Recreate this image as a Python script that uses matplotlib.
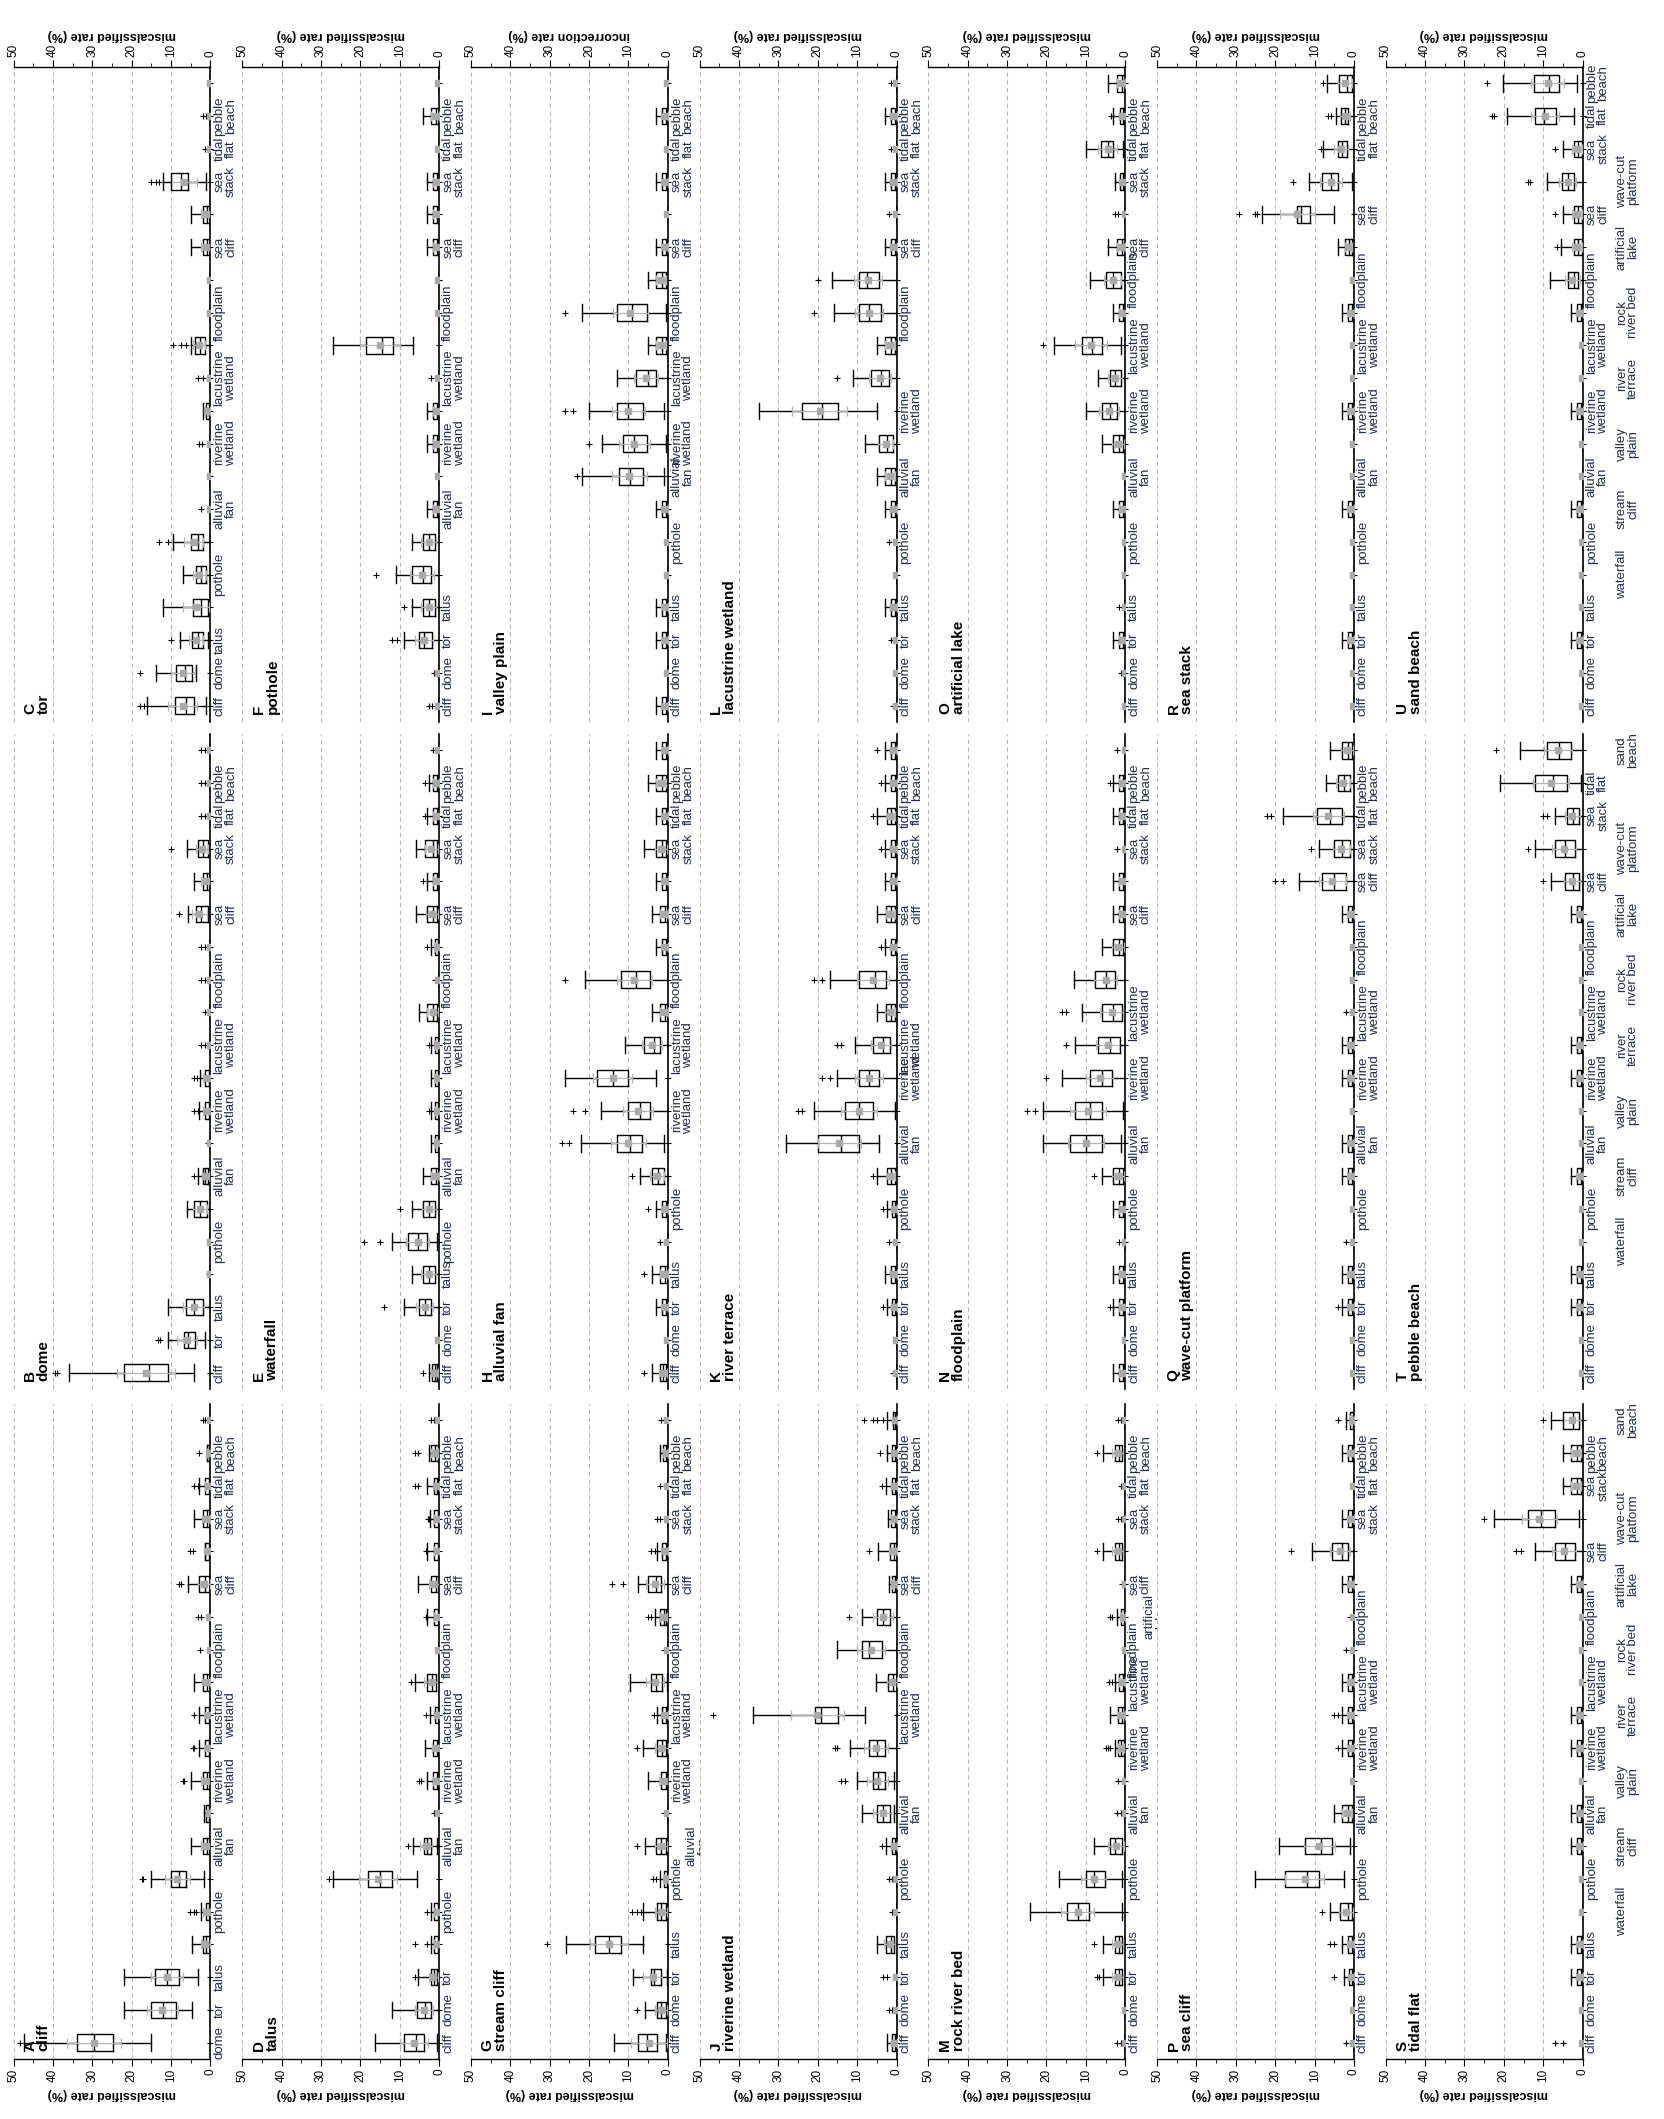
import matplotlib
matplotlib.use("Agg")
import matplotlib.pyplot as plt
from matplotlib.ticker import MultipleLocator
from matplotlib.transforms import blended_transform_factory, ScaledTranslation

plt.rcParams['font.family'] = ['Liberation Sans', 'DejaVu Sans']

CATS = ["cliff", "dome", "tor", "talus", "waterfall", "pothole", "stream cliff",
        "alluvial fan", "valley plain", "riverine wetland", "river terrace",
        "lacustrine wetland", "rock river bed", "floodplain", "artificial lake",
        "sea cliff", "wave-cut platform", "sea stack", "tidal flat",
        "pebble beach", "sand beach"]
LABEL_TEXT = {"cliff": "cliff", "dome": "dome", "tor": "tor", "talus": "talus",
              "waterfall": "waterfall", "pothole": "pothole",
              "stream cliff": "stream\ncliff", "alluvial fan": "alluvial\nfan",
              "valley plain": "valley\nplain", "riverine wetland": "riverine\nwetland",
              "river terrace": "river\nterrace", "lacustrine wetland": "lacustrine\nwetland",
              "rock river bed": "rock\nriver bed", "floodplain": "floodplain",
              "artificial lake": "artificial\nlake", "sea cliff": "sea\ncliff",
              "wave-cut platform": "wave-cut\nplatform", "sea stack": "sea\nstack",
              "tidal flat": "tidal\nflat", "pebble beach": "pebble\nbeach",
              "sand beach": "sand\nbeach"}
# 0 = next to the axis, 1 = middle row, 2 = far row
LABEL_ROW = {"cliff": 0, "dome": 0, "tor": 0, "talus": 0, "waterfall": 2, "pothole": 0,
             "stream cliff": 2, "alluvial fan": 0, "valley plain": 2,
             "riverine wetland": 0, "river terrace": 2, "lacustrine wetland": 0,
             "rock river bed": 2, "floodplain": 0, "artificial lake": 2, "sea cliff": 0,
             "wave-cut platform": 2, "sea stack": 0, "tidal flat": 0,
             "pebble beach": 0, "sand beach": 2}
ROW_OVERRIDE = {("G", "alluvial fan"): 1, ("M", "artificial lake"): 1}
LETTERS = "ABCDEFGHIJKLMNOPQRSTU"
AXIS_LABEL = {"I": "incorrection rate (%)"}
DEFAULT_AXIS_LABEL = "miscalssified rate (%)"

# rows: (q1, median, q3, whisker low, whisker high, mean, sd); one row per category
Z = (0, 0, 0, 0, 0, 0.2, 0)

A_stats = [(24.7, 29.5, 33.8, 15.2, 47.4, 29.5, 6.8), (8.8, 12, 15.2, 4.7, 22, 12.2, 4.0),
           (7.9, 11, 14.1, 3.1, 22, 11.0, 4.1), (0, 1.1, 2, 0, 4.7, 1.3, 1.2),
           (0, 0.4, 1.1, 0, 2.5, 0.9, 1.0), (6.1, 7.9, 9.9, 1.7, 15, 8.4, 3.1),
           (0, 0.8, 2, 0, 4.9, 1.1, 1.2), (0, 0.3, 1.1, 0, 1.7, 0.5, 0.5),
           (0, 0.8, 2, 0, 4.9, 1.1, 1.4), (0, 0.3, 1.4, 0, 2.8, 0.7, 1.0),
           (0, 0.3, 1.4, 0, 2.8, 0.7, 0.9), (0, 0.8, 2, 0, 4.1, 1.1, 1.1),
           Z, (0, 0, 0, 0, 0, 0.3, 0), (0, 1.4, 2.8, 0, 5.6, 1.6, 1.6),
           (0, 0.3, 1.4, 0, 1.4, 0.6, 1.0), (0, 0.8, 2, 0, 4.1, 1.1, 1.1),
           (0, 0.3, 1.4, 0, 2.8, 0.6, 0.9), (0, 0, 0.9, 0, 0.9, 0.4, 0.6), Z]
A_out = [[48.3], [], [], [], [3.8, 4.3, 5.2], [17.1, 17.5], [], [], [6.6, 7.0], [4.1, 4.5],
         [4.1], [], [2.6], [2.4, 3.2], [7.5, 7.9], [4.5, 5.1], [], [3.2, 4.3], [2.8], [1.4, 2.0]]

B_stats = [(10.9, 15.7, 21.9, 4.1, 36, 16.4, 7.4), (3.9, 5.8, 6.8, 1.5, 10.9, 6.0, 2.5),
           (2.0, 4.1, 6.2, 0, 10.9, 4.3, 2.6), Z, Z, (0.9, 2.6, 4.1, 0, 6.0, 2.6, 1.8),
           (0.7, 1.3, 2.0, 0, 3.2, 1.3, 0.9), Z, (0, 0.5, 1.4, 0, 2.8, 0.8, 1.0),
           (0, 0.5, 1.4, 0, 2.6, 0.8, 1.0), Z, Z, Z, Z, (0.7, 2.4, 3.7, 0, 5.8, 2.8, 1.8),
           (0, 0.8, 2.0, 0, 4.1, 1.1, 1.2), (0.7, 1.9, 3.2, 0, 6.0, 2.2, 1.6), Z, Z, Z]
B_out = [[39, 39.4], [12.8, 13.4], [], [0.5], [], [], [4.3], [0.7], [3.2, 4.1], [3.4, 4.3],
         [1.4, 2.4], [1.5], [1.4, 2.4], [1.5, 2.5], [7.9], [], [10], [1.5, 2.4], [1.4, 2.4],
         [1.4, 2.4]]

C_stats = [(4.1, 6.2, 9.0, 1.1, 16, 7.1, 3.8), (4.8, 6.5, 8.8, 3.7, 13.9, 7.0, 3.0),
           (1.8, 3.2, 4.8, 0.7, 7.7, 3.7, 1.8), (0.7, 2.4, 4.5, 0, 12, 3.7, 3.2),
           (1.1, 2.4, 3.7, 0, 6.9, 2.8, 1.7), (2.0, 3.2, 4.9, 0, 9.6, 4.3, 2.4),
           Z, Z, Z, (0, 0.4, 1.1, 0, 2.0, 0.8, 0.7), Z, (1.4, 2.7, 3.9, 0, 4.9, 2.9, 1.5),
           Z, Z, (0, 0.9, 2.0, 0, 4.9, 1.1, 1.3), (0, 0.9, 2.0, 0, 4.9, 1.1, 1.3),
           (5.6, 7.5, 10, 1.1, 12, 6.6, 3.2), Z, Z, Z]
C_out = [[17, 17.9], [17.9], [9.9], [], [], [10.9, 13], [2.4], [], [2.1, 3.0], [], [2.0, 3.2],
         [6.2, 7.5, 9.6], [], [], [], [], [13, 13.9, 15], [1.4], [1.1, 2.0], []]

D_stats = [(3.9, 6.0, 8.9, 0.5, 16.2, 6.4, 3.6), (2.1, 3.5, 5.7, 0, 11.9, 3.9, 2.3),
           (0.5, 1.2, 2.1, 0, 5.3, 1.5, 1.2), (0, 0.4, 1.2, 0, 2.1, 0.6, 0.8),
           (0, 0.4, 1.2, 0, 2.1, 0.6, 0.8), (11.9, 15, 18, 5.7, 27, 15.5, 4.8),
           (2.1, 3.0, 3.9, 0.5, 6.6, 3.3, 1.5), Z, (0, 0.5, 1.5, 0, 3.0, 0.8, 0.9),
           (0, 0.5, 1.5, 0, 3.5, 0.9, 1.0), (0, 0.4, 1.0, 0, 2.3, 0.6, 0.7),
           (0.8, 1.8, 3.0, 0, 6.1, 2.2, 1.7), Z, (0, 0.4, 1.3, 0, 3.1, 0.6, 0.8),
           (0, 0.8, 2.1, 0, 5.3, 1.2, 1.4), (0, 0.4, 1.3, 0, 3.1, 0.6, 0.8),
           (0, 0.4, 1.3, 0, 2.3, 0.6, 0.7), (0.2, 0.6, 1.3, 0, 3.1, 0.8, 0.8),
           (0.4, 1.0, 2.1, 0, 2.7, 1.1, 0.9), Z]
D_out = [[], [], [6.2], [3.0, 6.2], [3.0], [28], [8.0], [1.2], [4.5, 5.0], [], [3.3], [7.2],
         [], [3.3], [], [3.3], [2.5, 2.9], [5.5, 6.1], [5.5, 6.1], [1.3, 2.1]]

E_stats = [(0.5, 1.0, 1.8, 0, 2.5, 1.2, 0.8), Z, (2.2, 3.5, 5.2, 0, 9.0, 3.7, 2.2),
           (1.0, 2.5, 4.0, 0, 7.0, 2.7, 1.8), (3.0, 5.5, 8.0, 0.5, 12, 5.5, 3.0),
           (1.0, 2.5, 4.0, 0, 7.0, 2.6, 1.8), (0, 0.8, 2.0, 0, 4.0, 1.0, 1.0),
           (0, 0.3, 1.0, 0, 2.0, 0.5, 0.6), (0, 0.3, 1.0, 0, 2.0, 0.5, 0.6),
           (0, 0.3, 1.0, 0, 2.0, 0.5, 0.6), (0, 0.3, 1.0, 0, 2.0, 0.5, 0.6),
           (0.5, 1.5, 3.0, 0, 5.0, 1.7, 1.3), Z, (0, 0.3, 1.0, 0, 2.0, 0.5, 0.6),
           (0.5, 1.5, 3.0, 0, 6.0, 1.8, 1.5), (0, 0.5, 1.5, 0, 3.0, 0.8, 0.9),
           (0.5, 1.5, 3.5, 0, 6.0, 2.0, 1.6), (0, 0.5, 1.5, 0, 3.0, 0.8, 0.9),
           (0, 0.5, 1.5, 0, 2.5, 0.8, 0.8), Z]
E_out = [[4.0], [], [14], [], [15, 19], [10], [], [], [2.5], [], [2.5], [], [1.0], [3],
         [], [4], [], [3.5], [3.5], [1.5]]

F_stats = [Z, Z, (1.8, 3.9, 5.2, 0, 9, 3.9, 2.3), (1, 2.5, 4, 0, 7, 2.7, 1.8),
           (2, 4, 7, 0, 11, 4.3, 3), (1, 2.5, 4, 0, 7, 2.7, 1.8),
           (0, 0.5, 1.5, 0, 3, 0.8, 0.9), Z, (0, 0.5, 1.5, 0, 3, 0.8, 0.9),
           (0, 0.5, 1.5, 0, 3, 0.8, 0.9), Z, (11.8, 14.5, 18.7, 6.7, 26.9, 15, 5), Z, Z,
           (0, 0.5, 1.5, 0, 3, 0.8, 0.9), (0, 0.5, 1.5, 0, 3, 0.8, 0.9),
           (0, 0.5, 1.5, 0, 3, 0.8, 0.9), Z, (0, 0.8, 2.0, 0, 4, 1.1, 1.1), Z]
F_out = [[1.8, 2.6], [1.4], [10.7, 12], [9], [16], [], [], [], [], [], [2], [], [], [], [],
         [], [], [], [], []]

G_stats = [(2.7, 5.4, 7.6, 0.6, 13.8, 4.8, 4.5), (0.6, 1.8, 2.7, 0, 5.8, 1.8, 1.5),
           (1.8, 3.5, 4.4, 0.2, 8.8, 3.9, 2.3), (11.8, 15, 18.5, 6.2, 25.8, 15, 4.8),
           (0.6, 1.8, 2.7, 0, 6.2, 1.8, 1.6), (0, 0.3, 0.9, 0, 2.1, 0.5, 0.6),
           (0.4, 1.8, 2.9, 0, 5.8, 1.8, 1.6), Z, (0, 0.6, 1.8, 0, 5.0, 1.0, 1.3),
           (0.4, 1.5, 2.7, 0, 6.2, 1.7, 1.6), (0, 0.5, 1.5, 0, 2.7, 0.8, 0.9),
           (1.5, 2.9, 4.4, 0.2, 9.7, 3.3, 2.2), Z, (0.4, 1.0, 2.1, 0, 3.3, 1.2, 0.9),
           (1.8, 2.9, 5.0, 0, 7.6, 3.3, 2.3), (0, 0.5, 1.5, 0, 2.7, 0.8, 0.9), Z, Z,
           (0, 0.4, 1.2, 0, 2.1, 0.6, 0.7), Z]
G_out = [[], [7.9], [], [30.7], [6.8, 7.9, 9.1], [2.9, 3.9], [7.9], [0.9], [], [7.9], [3.6],
         [], [0.9], [4.4, 5.0], [11.4, 14.1], [3.3, 4.4], [2.0, 2.7], [2.1], [], [0.9, 1.8]]

H_stats = [(0.5, 1.2, 2.0, 0, 4.0, 1.3, 1.0), Z, (0, 0.5, 1.5, 0, 3, 0.8, 0.9),
           (0, 0.8, 2, 0, 4, 1.0, 1.1), Z, (0, 0.5, 1.5, 0, 3, 0.8, 0.9),
           (1.0, 2.5, 4.0, 0, 7, 2.7, 1.8), (6.5, 9.5, 13, 1, 22, 10, 4.5),
           (4.5, 7, 10, 0, 17, 7.5, 3.8), (10, 14, 18, 3, 26, 14, 5),
           (2, 3.5, 6, 0, 11, 4, 2.5), (0, 0.8, 2, 0, 4, 1, 1), (4.5, 8, 12, 0, 21, 8.5, 4.5),
           (0, 0.5, 1.5, 0, 3, 0.8, 0.9), (0, 0.8, 2, 0, 4, 1, 1),
           (0, 0.5, 1.5, 0, 3, 0.8, 0.9), (0.5, 1.5, 3, 0, 6, 1.8, 1.5),
           (0, 0.5, 1.5, 0, 3, 0.8, 0.9), (0.5, 1.5, 3, 0, 5, 1.7, 1.3),
           (0, 0.5, 1.5, 0, 3, 0.8, 0.9)]
H_out = [[6], [], [], [6], [2], [5], [9], [25, 27], [21, 24], [], [], [], [26], [], [], [],
         [], [], [], []]

I_stats = [(0, 0.5, 1.5, 0, 3, 0.8, 0.9), Z, (0, 0.5, 1.5, 0, 3, 0.8, 0.9),
           (0, 0.5, 1.5, 0, 3, 0.8, 0.9), Z, Z, (0, 0.5, 1.5, 0, 3, 0.8, 0.9),
           (6.4, 9.5, 12.5, 1, 21.8, 9.8, 4.5), (5.4, 8.5, 11.5, 0.5, 16.7, 8.5, 4),
           (6.4, 10, 13, 1, 20, 10, 4.3), (3, 5, 8.2, 0, 13, 5.5, 3),
           (0.5, 1.5, 3, 0, 5, 1.8, 1.3), (5.4, 9, 13, 0.5, 21.8, 9.5, 4.5),
           (0.5, 1.5, 3, 0, 5, 1.8, 1.3), (0, 0.5, 1.5, 0, 3, 0.8, 0.9), Z,
           (0, 0.5, 1.5, 0, 3, 0.8, 0.9), Z, (0, 0.5, 1.5, 0, 3, 0.8, 0.9), Z]
I_out = [[], [], [], [], [], [], [], [23], [20], [24, 26], [], [], [26], [], [], [], [], [],
         [], []]

J_stats = [(0, 0.4, 1.2, 0, 2.4, 0.6, 0.7), Z, Z, (0.6, 1.5, 2.6, 0, 5.0, 1.8, 1.4), Z, Z,
           (0, 0.4, 1.2, 0, 2.6, 0.6, 0.8), (1.8, 3.5, 5.0, 0.6, 8.9, 3.5, 2.5),
           (3.0, 4.7, 5.9, 0.6, 10, 4.9, 2.6), (3.0, 5.0, 7.1, 0, 11.8, 5.3, 3.0),
           (14.8, 19.1, 20.7, 8.0, 36.4, 20.1, 6.7), (0, 0.8, 2.1, 0, 5.3, 1.2, 1.2),
           (3.8, 7.1, 8.9, 0, 15.1, 6.5, 3.6), (1.8, 3.5, 5.0, 0, 8.9, 3.5, 2.5),
           (0, 0.4, 1.2, 0, 2.0, 0.6, 0.6), (0, 0.6, 1.8, 0, 4.7, 0.9, 1.1),
           (0, 0.5, 1.4, 0, 2.1, 0.7, 0.7), (0, 0.4, 1.2, 0, 2.6, 0.7, 0.8),
           (0, 0.4, 1.2, 0, 2.4, 0.6, 0.7), (0, 0.3, 0.9, 0, 2.4, 0.5, 0.7)]
J_out = [[], [1.2, 2.0], [2.4, 3.5], [], [1.2], [1.2, 2.0], [3.8], [], [13, 14.2],
         [15.1, 15.6], [46.5], [], [], [12.1], [], [7.1], [], [3.8], [4.1],
         [3.5, 5.0, 5.9, 8.3]]

K_stats = [Z, Z, (0, 0.4, 1.2, 0, 2.4, 0.6, 0.7), (0, 0.5, 1.5, 0, 3.0, 0.8, 0.9), Z,
           (0, 0.4, 1.2, 0, 2.5, 0.6, 0.7), (0.5, 1.5, 2.5, 0, 5, 1.6, 1.2),
           (9.6, 14, 20, 4.5, 28, 14.5, 5.5), (6, 9.5, 13, 0.5, 21, 9.5, 4.5),
           (4.5, 7, 9.6, 0, 15, 7, 3.5), (1.7, 3.5, 6, 0, 10.6, 4, 2.5),
           (0.5, 1.5, 2.7, 0, 5, 1.7, 1.3), (2.7, 5.5, 9.6, 0, 17, 6, 4),
           (0, 0.5, 1.5, 0, 3, 0.8, 0.9), (0.5, 1.5, 2.7, 0, 5, 1.6, 1.2),
           (0, 0.5, 1.5, 0, 3, 0.8, 0.9), (0, 0.5, 1.5, 0, 3, 0.8, 0.9),
           (0.5, 1.5, 2.5, 0, 5, 1.6, 1.2), (0, 0.5, 1.5, 0, 3, 0.8, 0.9),
           (0, 0.5, 1.5, 0, 3, 0.8, 0.9)]
K_out = [[1], [], [3.5], [], [2], [3.5], [6], [], [24, 25], [17, 19], [14, 15], [],
         [19, 21], [4], [], [], [4], [6], [4], [5]]

L_stats = [Z, Z, Z, (0, 0.5, 1.5, 0, 3, 0.8, 0.9), Z, Z, (0, 0.5, 1.5, 0, 3, 0.8, 0.9),
           (0.5, 1.5, 3, 0, 5, 1.7, 1.3), (1, 2.5, 4.5, 0, 8, 2.8, 2),
           (14.8, 19, 24, 5, 35, 19.5, 7), (2, 4, 6.5, 0, 11, 4.3, 2.8),
           (0.5, 1.5, 3, 0, 5, 1.7, 1.3), (4, 7, 9.6, 0, 16, 7, 3.5),
           (4.5, 7.5, 9.6, 0, 16.4, 7.3, 3.5), (0, 0.5, 1.5, 0, 3, 0.8, 0.9), Z,
           (0, 0.5, 1.5, 0, 3, 0.8, 0.9), Z, (0, 0.5, 1.5, 0, 3, 0.8, 0.9), Z]
L_out = [[1], [], [1.5], [], [], [2], [], [], [], [], [15], [], [21], [20], [], [2], [],
         [1.5], [], [1.5]]

M_stats = [Z, Z, (0.9, 1.7, 2.7, 0, 5.6, 1.9, 1.4), (0.9, 1.7, 2.7, 0, 5.6, 1.9, 1.4),
           (9.2, 12.1, 14.8, 0.9, 24.1, 12.1, 4.2), (5.1, 8.0, 10, 0.9, 16.8, 8.0, 3.2),
           (0.9, 2.7, 3.9, 0, 8.0, 2.4, 2.0), Z, Z, (0.4, 1.0, 1.9, 0, 2.7, 1.1, 0.8),
           (0, 0.8, 1.9, 0, 3.9, 1.0, 1.0), (0, 0.6, 1.5, 0, 2.7, 0.8, 0.8), Z,
           (0, 0.4, 1.2, 0, 2.1, 0.6, 0.6), Z, (0.9, 1.7, 2.7, 0, 5.6, 1.9, 1.4), Z, Z,
           (0.9, 1.7, 2.7, 0, 5.6, 1.9, 1.4), Z]
M_out = [[1.2, 2.1], [], [6.8, 7.1], [8.0], [], [], [], [1.2, 2.1], [0.9, 1.8],
         [3.9, 4.5, 5.0], [], [3.5, 4.2], [], [3.3, 3.9], [0.9], [7.1], [1.2, 1.8], [1.2],
         [7.1], [1.2, 1.8]]

N_stats = [(0, 0.5, 1.5, 0, 3, 0.8, 0.9), Z, (0, 0.5, 1.5, 0, 3, 0.8, 0.9),
           (0, 0.5, 1.5, 0, 3, 0.8, 0.9), Z, (0, 0.5, 1.5, 0, 3, 0.8, 0.9),
           (0.5, 1.5, 3, 0, 6, 1.8, 1.5), (6, 10, 14, 1, 21, 10, 4.5),
           (6, 9, 12.7, 0.5, 21, 9.5, 4.5), (3.5, 6, 9, 0, 16, 6.5, 3.5),
           (1.4, 4, 7, 0, 12.7, 4.5, 3), (0.8, 3, 5.8, 0, 11, 3.5, 2.8),
           (2.5, 5, 7.6, 0, 13, 5, 3), (0.5, 1.5, 3, 0, 6, 1.8, 1.5),
           (0, 0.5, 1.5, 0, 3, 0.8, 0.9), (0, 0.5, 1.5, 0, 3, 0.8, 0.9), Z,
           (0, 0.5, 1.5, 0, 3, 0.8, 0.9), (0, 0.5, 1.5, 0, 3, 0.8, 0.9), Z]
N_out = [[], [], [4], [], [1.5], [], [8], [], [23, 25], [20], [15], [15, 16], [], [], [], [],
         [2], [], [4], [2]]

O_stats = [Z, Z, (0, 0.5, 1.5, 0, 3, 0.8, 0.9), Z, Z, Z, (0, 0.5, 1.5, 0, 3, 0.8, 0.9), Z,
           (0.5, 1.5, 3, 0, 6, 1.8, 1.5), (2, 4, 6, 0, 10, 4.2, 2.5),
           (1, 2.5, 4, 0, 7, 2.6, 1.8), (6, 8.5, 11, 1, 18, 8.7, 4),
           (0, 0.5, 1.5, 0, 3, 0.8, 0.9), (1, 3, 5, 0, 9, 3.2, 2.2),
           (0, 0.8, 2, 0, 4.5, 1.1, 1.1), Z, (0, 0.5, 1.3, 0, 2.7, 0.7, 0.8),
           (3.1, 4.5, 6.2, 0.5, 10, 4.5, 2.5), (0, 0.5, 1.3, 0, 3.1, 0.8, 0.9),
           (0, 0.8, 2, 0, 4.5, 1.1, 1.1)]
O_out = [[], [1], [], [1.5], [], [], [], [], [], [], [], [21], [], [], [], [1.8, 2.7], [],
         [], [3.6], []]

P_stats = [Z, Z, (0, 0.5, 1.2, 0, 2.5, 0.7, 0.8), (0, 0.5, 1.5, 0, 3, 0.8, 0.9),
           (0.5, 1.5, 3.5, 0, 6, 2, 1.8), (9, 12, 17.5, 2.5, 25, 12.5, 5),
           (5.5, 8.5, 12.5, 1, 19, 8.8, 4), (0.5, 1.5, 3, 0, 5, 1.7, 1.3), Z,
           (0, 0.5, 1.5, 0, 3, 0.8, 0.9), (0, 0.5, 1.5, 0, 3, 0.8, 0.9),
           (0, 0.5, 1.5, 0, 3, 0.8, 0.9), Z, Z, (0, 0.5, 1.5, 0, 3, 0.8, 0.9),
           (1.5, 3, 5.5, 0, 10.7, 3.5, 2.5), (0, 0.5, 1.5, 0, 3, 0.8, 0.9), Z,
           (0, 0.5, 1.5, 0, 3, 0.8, 0.9), (0, 0.3, 1.0, 0, 2, 0.5, 0.6)]
P_out = [[2], [], [5], [5, 6], [8], [], [], [], [], [4], [4, 5], [], [2], [1], [], [16], [],
         [], [], [4]]

Q_stats = [Z, Z, (0, 0.5, 1.5, 0, 3, 0.8, 0.9), (0, 0.5, 1.5, 0, 3, 0.8, 0.9), Z, Z,
           (0, 0.5, 1.5, 0, 3, 0.8, 0.9), (0, 0.5, 1.5, 0, 3, 0.8, 0.9), Z,
           (0, 0.5, 1.5, 0, 3, 0.8, 0.9), (0, 0.5, 1.5, 0, 3, 0.8, 0.9), Z, Z, Z,
           (0, 0.5, 1.5, 0, 3, 0.8, 0.9), (2, 5, 8, 0, 14, 5.5, 3.5),
           (1, 3, 5, 0, 9, 3.2, 2.2), (3, 6, 9.5, 0, 18, 6.5, 4),
           (1, 2.5, 4, 0, 7, 2.7, 1.8), (0.5, 1.5, 3, 0, 6, 1.8, 1.5)]
Q_out = [[], [], [4], [], [2], [], [], [], [], [], [], [2], [], [], [], [18, 20], [11],
         [21, 22], [], []]

R_stats = [Z, Z, (0, 0.5, 1.5, 0, 3, 0.8, 0.9), Z, Z, Z, (0, 0.5, 1.5, 0, 3, 0.8, 0.9),
           Z, Z, (0, 0.5, 1.5, 0, 3, 0.8, 0.9), Z, Z, (0, 0.5, 1.5, 0, 3, 0.8, 0.9), Z,
           (0.5, 1.2, 2.3, 0, 4.1, 1.4, 1.0), (11.1, 13.5, 14.4, 5.2, 23.3, 14.4, 4.4),
           (4.1, 5.9, 8.2, 0.5, 11.4, 5.9, 2.8), (1.8, 3.0, 4.1, 0, 7.8, 3.2, 1.8),
           (1.4, 2.3, 3.2, 0, 4.5, 2.3, 1.2), (0.5, 1.8, 3.7, 0, 6.9, 2.3, 1.8)]
R_out = [[], [], [], [], [], [], [], [], [], [], [], [], [], [0.3], [],
         [24.6, 25.0, 29.2], [15.4], [8.5], [5.9, 6.6], [7.8]]

S_stats = [Z, Z, (0, 0.5, 1.5, 0, 3, 0.8, 0.9), (0, 0.5, 1.5, 0, 3, 0.8, 0.9), Z, Z,
           (0, 0.5, 1.5, 0, 3, 0.8, 0.9), (0, 0.5, 1.5, 0, 3, 0.8, 0.9), Z,
           (0, 0.5, 1.5, 0, 3, 0.8, 0.9), (0, 0.5, 1.5, 0, 3, 0.8, 0.9), Z, Z, Z,
           (0, 0.5, 1.5, 0, 3, 0.8, 0.9), (2, 4.5, 7, 0, 12, 4.8, 3),
           (7, 10.5, 14, 1, 22.5, 11, 4.5), (0.5, 1.5, 3, 0, 5, 1.7, 1.3),
           (0.5, 1.5, 3, 0, 5, 1.7, 1.3), (1, 2.5, 5, 0, 8, 2.8, 2)]
S_out = [[5, 7], [], [], [], [], [], [], [], [], [], [], [], [], [], [], [15.6, 17], [25],
         [], [], [10]]

T_stats = [Z, Z, (0, 0.5, 1.5, 0, 3, 0.8, 0.9), (0, 0.5, 1.5, 0, 3, 0.8, 0.9), Z, Z,
           (0, 0.5, 1.5, 0, 3, 0.8, 0.9), Z, Z, (0, 0.5, 1.5, 0, 3, 0.8, 0.9),
           (0, 0.5, 1.5, 0, 3, 0.8, 0.9), Z, Z, Z, (0, 0.5, 1.5, 0, 3, 0.8, 0.9),
           (1, 2.5, 4.5, 0, 8, 2.8, 2), (2, 4.5, 7, 0, 12, 4.8, 3),
           (1, 2.5, 4, 0, 7, 2.6, 1.8), (4, 7.5, 12, 0.5, 21, 8, 4.5),
           (3, 6, 9, 0, 16, 6.2, 3.5)]
T_out = [[], [], [], [], [], [], [], [], [], [], [], [], [], [], [], [10], [14], [9, 10], [],
         [22]]

U_stats = [Z, Z, (0, 0.5, 1.5, 0, 3, 0.8, 0.9), Z, Z, Z, (0, 0.5, 1.5, 0, 3, 0.8, 0.9), Z,
           Z, (0, 0.5, 1.5, 0, 3, 0.8, 0.9), Z, Z, (0, 0.5, 1.5, 0, 3, 0.8, 0.9),
           (1.1, 2.3, 3.8, 0, 8.2, 2.6, 1.8), (0.3, 1.2, 2.3, 0, 5.5, 1.4, 1.2),
           (0.3, 1.2, 2.3, 0, 5, 1.4, 1.2), (2.3, 3.7, 5.2, 0, 9.1, 3.8, 2.2),
           (0.3, 1.2, 2.3, 0, 5, 1.4, 1.2), (6.9, 9.9, 12, 2.3, 19.2, 9.6, 3.6),
           (5.9, 8.5, 12.3, 1.4, 20.3, 8.9, 4.2)]
U_out = [[], [], [], [], [], [], [], [], [], [], [], [], [], [], [6.4], [7.1], [13.3, 14],
         [7.1], [22.4, 23], [24.2]]

PANELS = {"A": (A_stats, A_out), "B": (B_stats, B_out), "C": (C_stats, C_out),
          "D": (D_stats, D_out), "E": (E_stats, E_out), "F": (F_stats, F_out),
          "G": (G_stats, G_out), "H": (H_stats, H_out), "I": (I_stats, I_out),
          "J": (J_stats, J_out), "K": (K_stats, K_out), "L": (L_stats, L_out),
          "M": (M_stats, M_out), "N": (N_stats, N_out), "O": (O_stats, O_out),
          "P": (P_stats, P_out), "Q": (Q_stats, Q_out), "R": (R_stats, R_out),
          "S": (S_stats, S_out), "T": (T_stats, T_out), "U": (U_stats, U_out)}

W, H = 1665, 2119
fig = plt.figure(figsize=(W / 100, H / 100), dpi=100)
STRIPS = {0: (1404, 2059), 1: (734, 1389), 2: (67, 722)}  # pixel top, bottom
LABEL_COLOR = '#1f2c4c'
line = dict(color='k', linewidth=1.0)

for k, L in enumerate(LETTERS):
    j, s = divmod(k, 3)
    left = 13.5 + 228.7 * j
    top, bot = STRIPS[s]
    ax = fig.add_axes([left / W, 1 - bot / H, 197 / W, (bot - top) / H])
    cats = [c for c in CATS if c != CATS[k]]
    stats, outs = PANELS[L]
    assert len(stats) == 20 and len(outs) == 20, L
    pos = list(range(20))
    bx = [dict(q1=r[0], med=r[1], q3=r[2], whislo=r[3], whishi=r[4], fliers=fl)
          for r, fl in zip(stats, outs)]
    kw = dict(positions=pos, widths=0.5, capwidths=0.5, manage_ticks=False,
              boxprops=line, whiskerprops=line, capprops=line, medianprops=line,
              flierprops=dict(marker='+', markeredgecolor='k', markersize=5,
                              markeredgewidth=0.8, linestyle='none'))
    try:
        ax.bxp(bx, orientation='horizontal', **kw)
    except TypeError:
        ax.bxp(bx, vert=False, **kw)
    for p, r in zip(pos, stats):
        if r[6] > 0:
            ax.errorbar(r[5], p, xerr=r[6], fmt='none', ecolor='#b4b4b4',
                        elinewidth=0.9, capsize=3.5, capthick=0.9, zorder=3)
    ax.plot([r[5] for r in stats], pos, 's', color='#a9a9a9', ms=4, ls='none', zorder=4)

    ax.set_xlim(50, 0)
    ax.set_ylim(-0.5, 19.5)
    ax.set_xticks(range(0, 51, 10))
    ax.xaxis.set_minor_locator(MultipleLocator(5))
    ax.grid(axis='x', which='major', linestyle=(0, (4, 3)), color='#b8b8b8', linewidth=0.8)
    ax.set_axisbelow(True)
    for sp in ['left', 'top', 'bottom']:
        ax.spines[sp].set_visible(False)
    ax.spines['right'].set_linewidth(1.2)
    ax.yaxis.tick_right()
    ax.set_yticks(pos)
    ax.set_yticklabels([])
    ax.tick_params(axis='y', direction='inout', length=5, width=0.8)

    label = AXIS_LABEL.get(L, DEFAULT_AXIS_LABEL)
    if s == 2:
        ax.spines['top'].set_visible(True)
        ax.spines['top'].set_linewidth(1.0)
        ax.xaxis.tick_top()
        ax.xaxis.set_label_position('top')
        ax.tick_params(axis='x', which='major', direction='out', length=5,
                       labelsize=8.5, labelrotation=90, pad=2)
        ax.tick_params(axis='x', which='minor', direction='out', length=3)
        ax.set_xlabel(label, rotation=180, fontweight='bold', fontsize=9, labelpad=4)
    elif s == 0:
        ax.spines['bottom'].set_visible(True)
        ax.spines['bottom'].set_linewidth(1.0)
        ax.tick_params(axis='x', which='major', direction='out', length=5,
                       labelsize=8.5, labelrotation=90, pad=2)
        ax.tick_params(axis='x', which='minor', direction='out', length=3)
        ax.set_xlabel(label, rotation=180, fontweight='bold', fontsize=9, labelpad=4)
    else:
        ax.tick_params(axis='x', which='both', length=0, labelbottom=False, labeltop=False)

    base = blended_transform_factory(ax.transAxes, ax.transData)
    for p, c in enumerate(cats):
        row = ROW_OVERRIDE.get((L, c), LABEL_ROW[c])
        dx = {0: 3.0, 1: 18.0, 2: 33.0}[row]
        tr = base + ScaledTranslation(dx / 100, 0, fig.dpi_scale_trans)
        ax.text(1.0, p, LABEL_TEXT[c], transform=tr, rotation=90, ha='left', va='center',
                multialignment='center', fontsize=9.5, linespacing=0.95,
                color=LABEL_COLOR, clip_on=False)

    ax.text(0.05, 0.012, f"{L}\n{CATS[k]}", transform=ax.transAxes, rotation=90,
            ha='left', va='bottom', multialignment='left', fontsize=11,
            fontweight='bold', linespacing=0.95)

fig.savefig('out.png', dpi=100)
